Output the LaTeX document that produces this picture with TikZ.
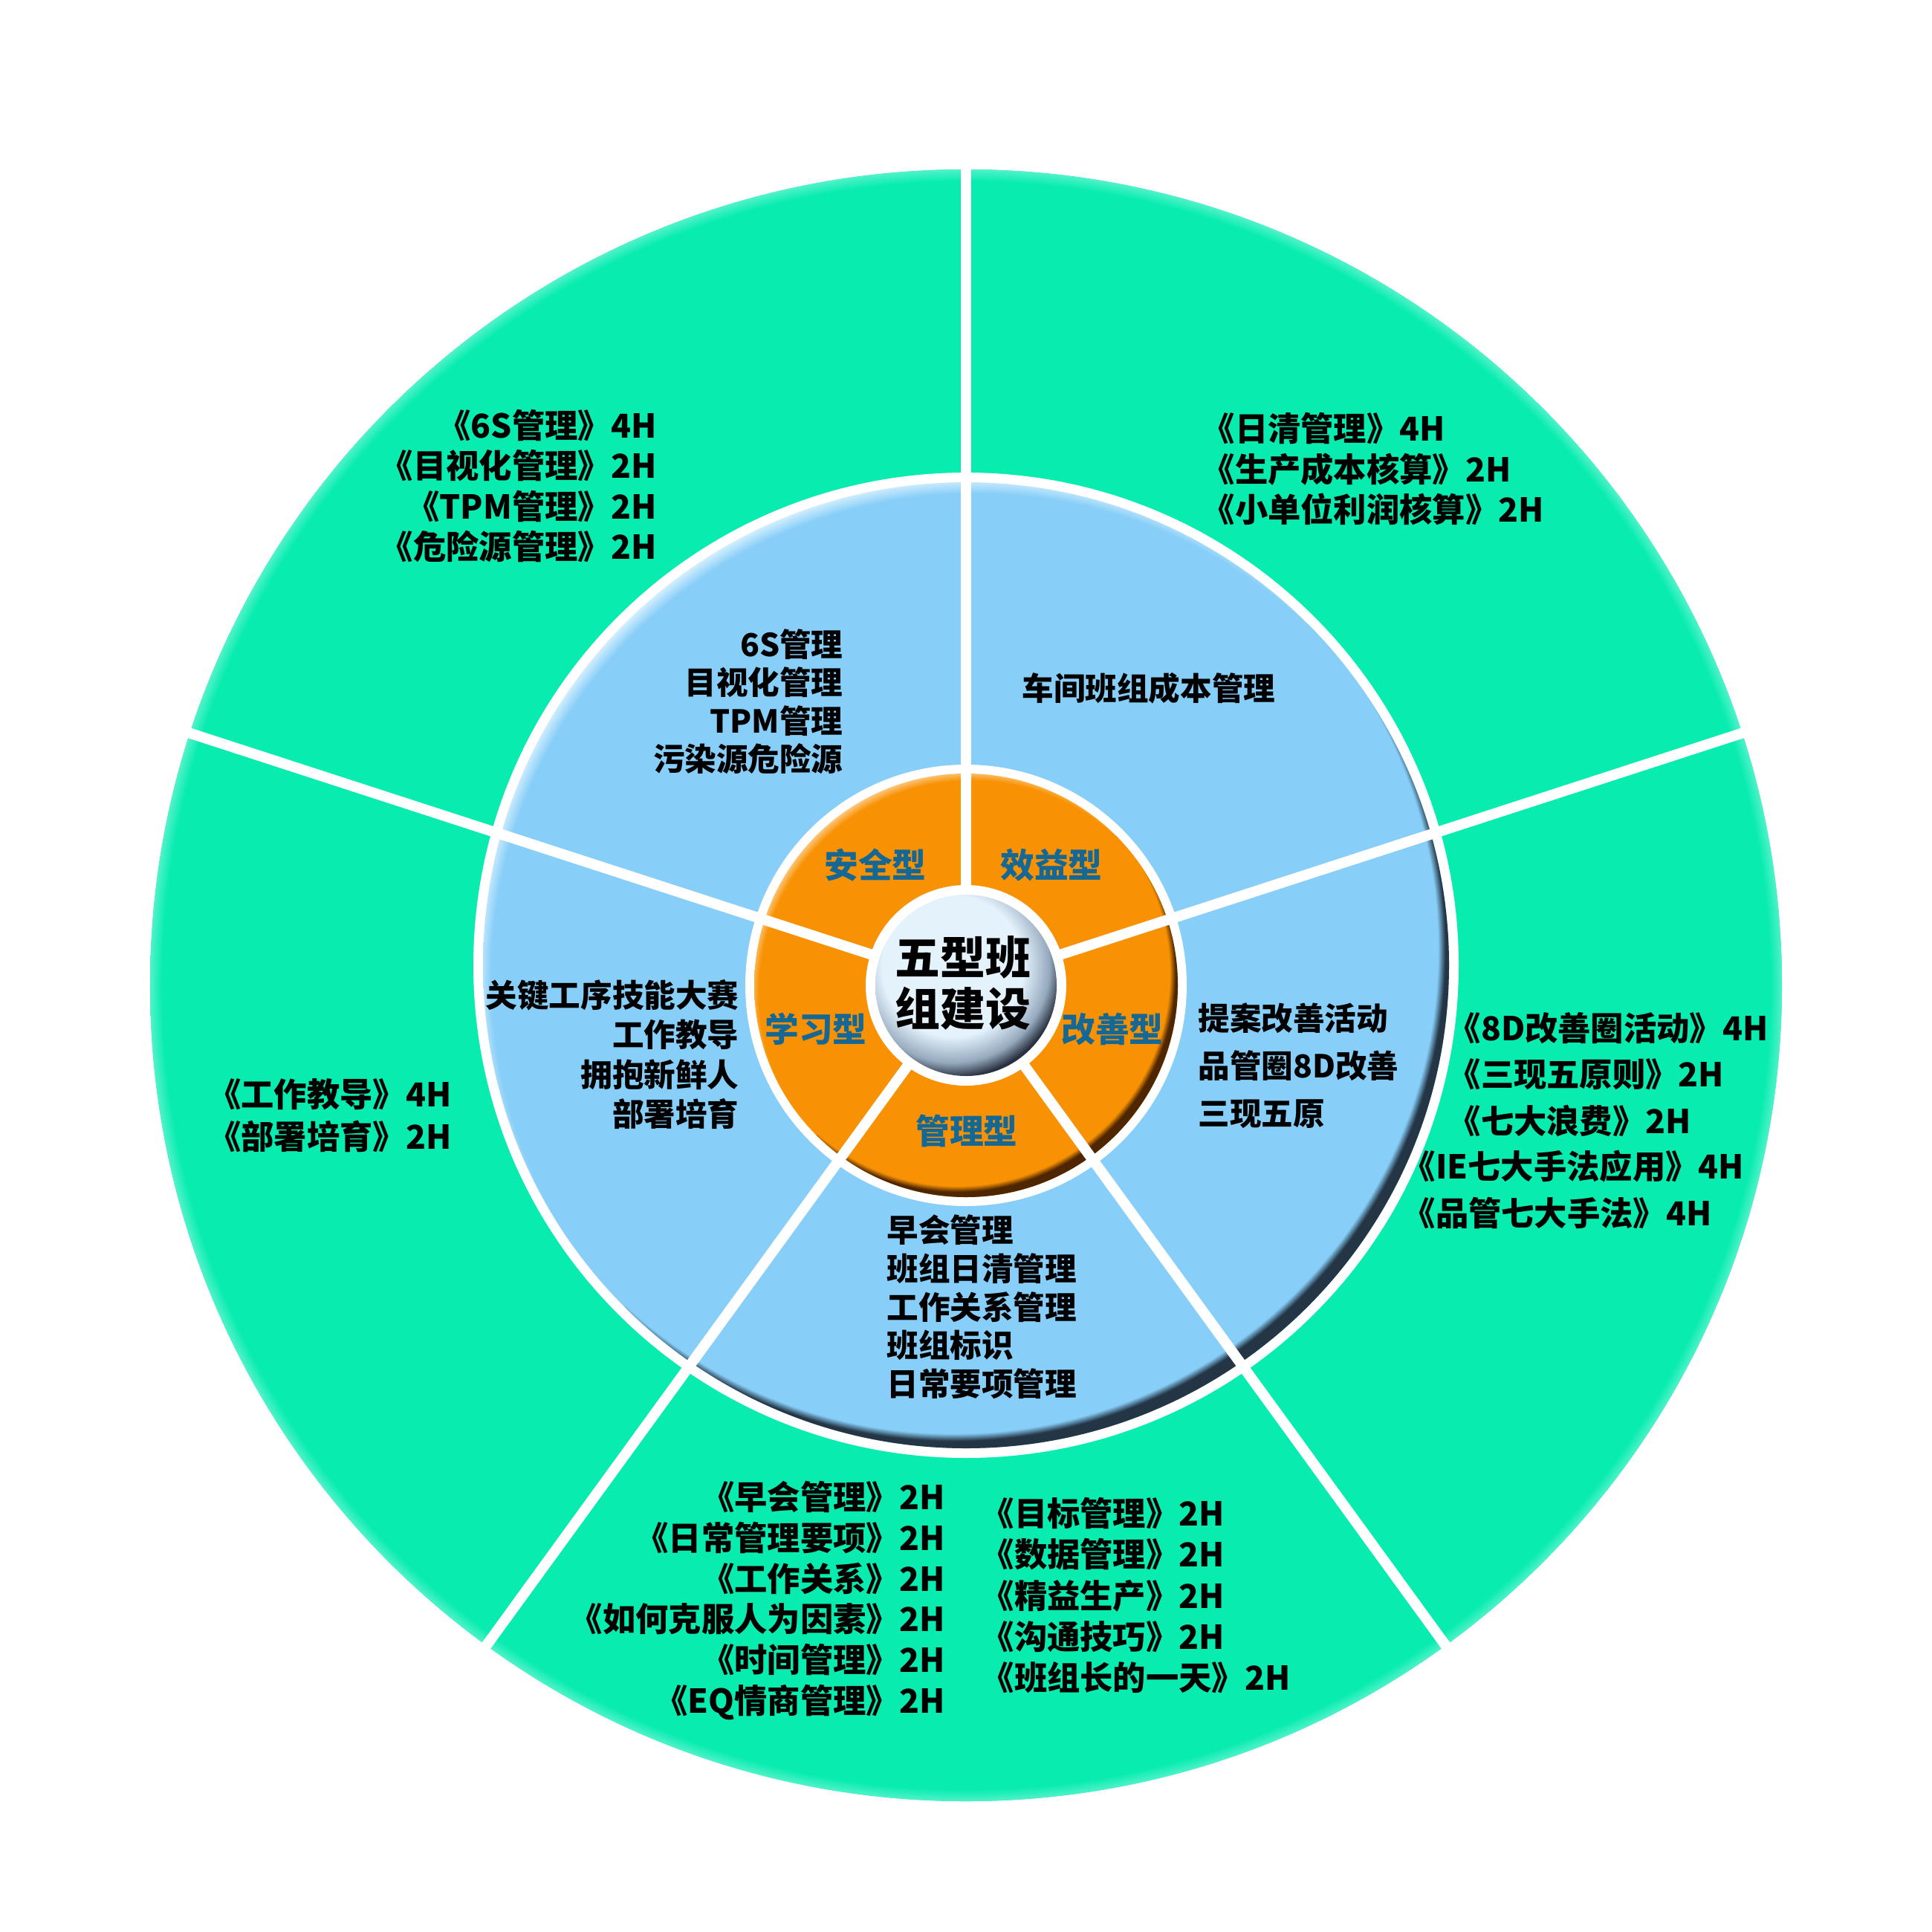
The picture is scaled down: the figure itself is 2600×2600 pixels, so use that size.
\documentclass[tikz,border=0pt]{standalone}
\usepackage{fontspec}
\setmainfont{Noto Sans CJK SC}
\usetikzlibrary{calc}
\definecolor{grn}{RGB}{8,236,176}
\definecolor{grnl}{RGB}{80,242,200}
\definecolor{blu}{RGB}{135,206,248}
\definecolor{blul}{RGB}{210,238,253}
\definecolor{bdark}{RGB}{36,54,70}
\definecolor{org}{RGB}{248,146,4}
\definecolor{orgl}{RGB}{252,196,120}
\definecolor{odark}{RGB}{78,38,2}
\definecolor{ballc}{RGB}{228,242,252}
\definecolor{ballm}{RGB}{150,170,190}
\definecolor{balld}{RGB}{40,48,64}
\definecolor{lbl}{RGB}{22,104,148}
\pgfdeclareradialshading{gshade}{\pgfpointorigin}{color(0bp)=(grn); color(23.32bp)=(grn); color(23.66bp)=(grnl); color(50bp)=(grnl)}
\pgfdeclareradialshading{blight}{\pgfpointorigin}{color(0bp)=(blu); color(22.92bp)=(blu); color(23.59bp)=(blul); color(50bp)=(blul)}
\pgfdeclareradialshading{bdk}{\pgfpointorigin}{color(0bp)=(blu); color(22.96bp)=(blu); color(23.31bp)=(bdark); color(50bp)=(bdark)}
\pgfdeclareradialshading{olight}{\pgfpointorigin}{color(0bp)=(org); color(20.72bp)=(org); color(21.52bp)=(orgl); color(50bp)=(orgl)}
\pgfdeclareradialshading{odk}{\pgfpointorigin}{color(0bp)=(org); color(20.72bp)=(org); color(21.30bp)=(odark); color(50bp)=(odark)}
\pgfdeclareradialshading{ballsh}{\pgfpointorigin}{color(0bp)=(ballc); color(13.19bp)=(ballc); color(18.06bp)=(ballm); color(20.83bp)=(balld); color(50bp)=(balld)}
\tikzset{
  txo/.style={inner sep=0pt, font=\bfseries\fontsize{12.6}{#1}\selectfont},
  txb/.style={inner sep=0pt, font=\bfseries\fontsize{12.1}{#1}\selectfont},
  lab/.style={inner sep=0pt, text=lbl, font=\bfseries\fontsize{13}{15}\selectfont},
  divider/.style={white, line width=4pt},
}
\begin{document}
\begin{tikzpicture}[x=0.01cm,y=-0.01cm]
\useasboundingbox (0,0) rectangle (2600,2600);
\fill[white] (0,0) rectangle (2600,2600);
\coordinate (C) at (1300,1326);
\coordinate (CB) at (1300,1299);
% outer green disk
\fill[grn] (C) circle[radius=1098];
\begin{scope}
  \clip (C) circle[radius=1098];
  \shade[shading=gshade] ($(C)+(-1160,-1160)$) rectangle ($(C)+(1160,1160)$);
\end{scope}
% blue disk with white rim
\fill[white] (CB) circle[radius=663];
\begin{scope}
  \clip (CB) circle[radius=650];
  \shade[shading=blight] ($(CB)+(12,16)+(-710,-710)$) rectangle ($(CB)+(12,16)+(710,710)$);
  \clip ($(CB)+(-1500,1500)$) -- ($(CB)+(1500,-1500)$) -- ($(CB)+(1500,1500)$) -- cycle;
  \shade[shading=bdk] ($(CB)+(-17,-22)+(-710,-710)$) rectangle ($(CB)+(-17,-22)+(710,710)$);
\end{scope}
% orange disk with white rim
\fill[white] (C) circle[radius=297];
\begin{scope}
  \clip (C) circle[radius=285];
  \shade[shading=olight] ($(C)+(7,10)+(-345,-345)$) rectangle ($(C)+(7,10)+(345,345)$);
  \clip ($(C)+(-1500,1500)$) -- ($(C)+(1500,-1500)$) -- ($(C)+(1500,1500)$) -- cycle;
  \shade[shading=odk] ($(C)+(-12,-16)+(-345,-345)$) rectangle ($(C)+(-12,-16)+(345,345)$);
\end{scope}
% white dividers
\foreach \a in {-90,-18,54,126,198}
  \draw[divider] (C) -- ++(\a:1130);
% central ball
\fill[white] (C) circle[radius=135];
\begin{scope}
  \clip (C) circle[radius=122];
  \shade[shading=ballsh] ($(C)+(-18,-26)+(-180,-180)$) rectangle ($(C)+(-18,-26)+(180,180)$);
\end{scope}
\node[inner sep=0pt, align=center, font=\bfseries\fontsize{17.3}{19.8}\selectfont] (title) at (1296,1323) {五型班\\组建设};
% orange labels
\node[lab] (l1) at (1178,1164) {安全型};
\node[lab] (l2) at (1415,1164) {效益型};
\node[lab] (l3) at (1098,1385) {学习型};
\node[lab] (l4) at (1497,1385) {改善型};
\node[lab] (l5) at (1301,1522) {管理型};
% blue ring texts
\node[txb=14.65, align=right, anchor=east] (ba) at (1135,944) {6S管理\\目视化管理\\TPM管理\\污染源危险源};
\node[txb=14.7, anchor=west] (bb) at (1375,926) {车间班组成本管理};
\node[txb=18.3, align=left, anchor=west] (bc) at (1612,1434) {提案改善活动\\品管圈8D改善\\三现五原};
\node[txb=15.1, align=right, anchor=east] (bd) at (995,1419) {关键工序技能大赛\\工作教导\\拥抱新鲜人\\部署培育};
\node[txb=14.7, align=left, anchor=west] (be) at (1193,1759) {早会管理\\班组日清管理\\工作关系管理\\班组标识\\日常要项管理};
% outer texts
\node[txo=15.4, align=right, anchor=east] (oa) at (884,654) {《6S管理》4H\\《目视化管理》2H\\《TPM管理》2H\\《危险源管理》2H};
\node[txo=15.6, align=left, anchor=west] (ob) at (1617,631) {《日清管理》4H\\《生产成本核算》2H\\《小单位利润核算》2H};
\node[txo=17.7, align=left, anchor=west] (oc) at (1948,1446) {《8D改善圈活动》4H\\《三现五原则》2H\\《七大浪费》2H};
\node[txo=17.7, align=left, anchor=west] (od) at (1887,1601) {《IE七大手法应用》4H\\《品管七大手法》4H};
\node[txo=16.4, align=right, anchor=east] (oe) at (608,1501) {《工作教导》4H\\《部署培育》2H};
\node[txo=15.6, align=right, anchor=east] (of) at (1272,2154) {《早会管理》2H\\《日常管理要项》2H\\《工作关系》2H\\《如何克服人为因素》2H\\《时间管理》2H\\《EQ情商管理》2H};
\node[txo=15.7, align=left, anchor=west] (og) at (1320,2147) {《目标管理》2H\\《数据管理》2H\\《精益生产》2H\\《沟通技巧》2H\\《班组长的一天》2H};
\end{tikzpicture}
\end{document}
